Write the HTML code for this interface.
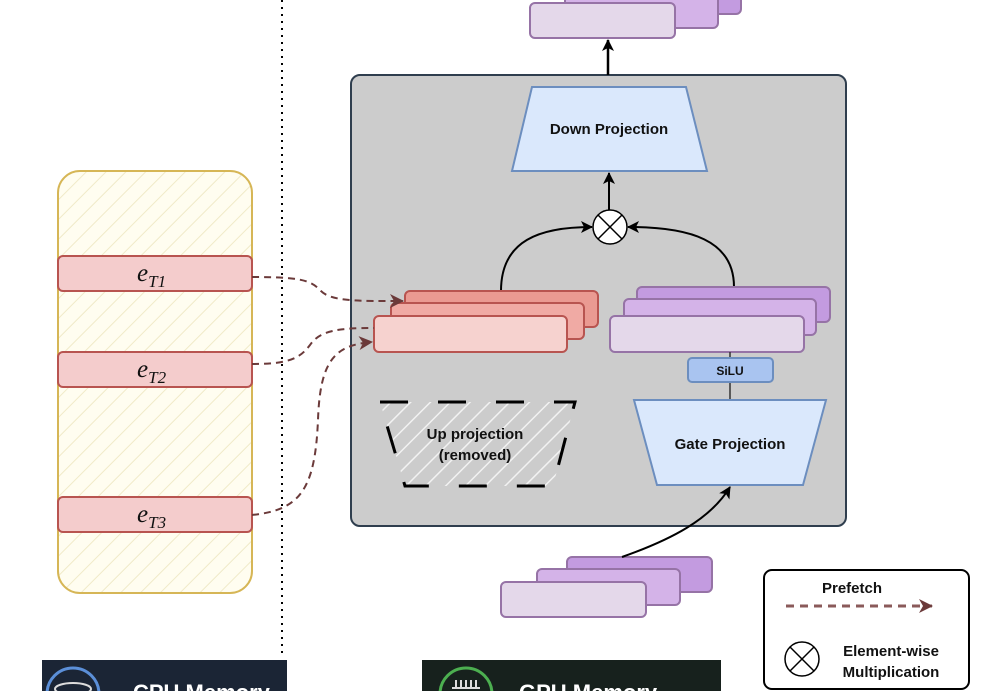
<!DOCTYPE html>
<html><head><meta charset="utf-8"><style>
html,body{margin:0;padding:0;background:#fff;width:1002px;height:691px;overflow:hidden}
svg{display:block}
text{font-family:"Liberation Sans",sans-serif}
</style></head><body>
<svg width="1002" height="691" viewBox="0 0 1002 691" xmlns="http://www.w3.org/2000/svg">
<defs>
<pattern id="hy" patternUnits="userSpaceOnUse" width="14" height="14" patternTransform="rotate(45)">
<rect width="14" height="14" fill="#fffdf0"/><line x1="0" y1="0" x2="0" y2="14" stroke="#f0eac8" stroke-width="2"/></pattern>
<pattern id="hg" patternUnits="userSpaceOnUse" width="14" height="14" patternTransform="rotate(45)">
<rect width="14" height="14" fill="#cccccc"/><line x1="0" y1="0" x2="0" y2="14" stroke="#f2f2f2" stroke-width="3"/></pattern>
<marker id="ab" markerWidth="12" markerHeight="12" refX="11" refY="6" orient="auto" markerUnits="userSpaceOnUse"><path d="M0,0 L12,6 L0,12 L3,6z" fill="#000"/></marker>
<marker id="ar" markerWidth="14" markerHeight="14" refX="13" refY="7" orient="auto" markerUnits="userSpaceOnUse"><path d="M0,0 L14,7 L0,14 L4,7z" fill="#6b3a3a"/></marker>
</defs>
<line x1="282" y1="0" x2="282" y2="655" stroke="#000" stroke-width="2" stroke-dasharray="2,5"/>
<rect x="58" y="171" width="194" height="422" rx="22" fill="url(#hy)" stroke="#d6b656" stroke-width="2"/>
<g fill="#f4cccc" stroke="#b85450" stroke-width="2">
<rect x="58" y="256" width="194" height="35" rx="5"/>
<rect x="58" y="352" width="194" height="35" rx="5"/>
<rect x="58" y="497" width="194" height="35" rx="5"/>
</g>
<g style="font-family:'Liberation Serif',serif;font-style:italic" fill="#111">
<text x="137" y="281" font-size="25" style="font-family:'Liberation Serif',serif">e<tspan font-size="17" dy="6">T1</tspan></text>
<text x="137" y="377" font-size="25" style="font-family:'Liberation Serif',serif">e<tspan font-size="17" dy="6">T2</tspan></text>
<text x="137" y="522" font-size="25" style="font-family:'Liberation Serif',serif">e<tspan font-size="17" dy="6">T3</tspan></text>
</g>
<rect x="351" y="75" width="495" height="451" rx="9" fill="#cccccc" stroke="#2f3e4e" stroke-width="2"/>
<g stroke="#9673a6" stroke-width="2">
<rect x="600" y="-12" width="141" height="26" rx="5" fill="#c39be0"/>
<rect x="565" y="-8" width="153" height="36" rx="5" fill="#d4b3e8"/>
<rect x="530" y="3" width="145" height="35" rx="5" fill="#e4d8ea"/>
</g>
<line x1="608" y1="75" x2="608" y2="40" stroke="#000" stroke-width="2.5" marker-end="url(#ab)"/>
<polygon points="532,87 686,87 707,171 512,171" fill="#dae8fc" stroke="#6c8ebf" stroke-width="2"/>
<text x="609" y="134" font-size="15" font-weight="bold" text-anchor="middle" fill="#111">Down Projection</text>
<line x1="609" y1="210" x2="609" y2="173" stroke="#000" stroke-width="2" marker-end="url(#ab)"/>
<circle cx="610" cy="227" r="17" fill="#fff" stroke="#000" stroke-width="1.5"/>
<path d="M598,215 L622,239 M622,215 L598,239" stroke="#000" stroke-width="1.5"/>
<path d="M501,291 C501,240 540,227 592,227" fill="none" stroke="#000" stroke-width="2" marker-end="url(#ab)"/>
<path d="M734,287 C734,240 690,227 628,227" fill="none" stroke="#000" stroke-width="2" marker-end="url(#ab)"/>
<g stroke="#b85450" stroke-width="2">
<rect x="405" y="291" width="193" height="36" rx="5" fill="#ea9a92"/>
<rect x="391" y="303" width="193" height="36" rx="5" fill="#f0aaa4"/>
<rect x="374" y="316" width="193" height="36" rx="5" fill="#f6d2cf"/>
</g>
<g stroke="#9673a6" stroke-width="2">
<rect x="637" y="287" width="193" height="35" rx="5" fill="#c39be0"/>
<rect x="624" y="299" width="192" height="36" rx="5" fill="#d4b3e8"/>
<rect x="610" y="316" width="194" height="36" rx="5" fill="#e4d8ea"/>
</g>
<line x1="730" y1="352" x2="730" y2="400" stroke="#333" stroke-width="1.5"/>
<rect x="688" y="358" width="85" height="24" rx="4" fill="#a9c4f0" stroke="#6c8ebf" stroke-width="2"/>
<text x="730" y="375" font-size="12" font-weight="bold" text-anchor="middle" fill="#111">SiLU</text>
<polygon points="634,400 826,400 803,485 657,485" fill="#dae8fc" stroke="#6c8ebf" stroke-width="2"/>
<text x="730" y="449" font-size="15" font-weight="bold" text-anchor="middle" fill="#111">Gate Projection</text>
<polygon points="380,402 575,402 553,486 405,486" fill="url(#hg)" stroke="#000" stroke-width="3" stroke-dasharray="28,30"/>
<text x="475" y="439" font-size="15" font-weight="bold" text-anchor="middle" fill="#111">Up projection</text>
<text x="475" y="460" font-size="15" font-weight="bold" text-anchor="middle" fill="#111">(removed)</text>
<g stroke="#9673a6" stroke-width="2">
<rect x="567" y="557" width="145" height="35" rx="5" fill="#c39be0"/>
<rect x="537" y="569" width="143" height="36" rx="5" fill="#d4b3e8"/>
<rect x="501" y="582" width="145" height="35" rx="5" fill="#e4d8ea"/>
</g>
<path d="M622,557 C670,540 710,520 730,487" fill="none" stroke="#000" stroke-width="2" marker-end="url(#ab)"/>
<g fill="none" stroke="#6b3a3a" stroke-width="2" stroke-dasharray="7,5">
<path d="M252,277 C300,277 310,280 320,290 C330,302 360,301 403,301" marker-end="url(#ar)"/>
<path d="M252,364 C290,364 300,358 310,345 C320,330 340,328 374,328"/>
<path d="M252,515 C300,510 315,490 318,420 C320,360 335,345 372,342" marker-end="url(#ar)"/>
</g>
<rect x="764" y="570" width="205" height="119" rx="8" fill="#fff" stroke="#000" stroke-width="2"/>
<text x="852" y="593" font-size="15" font-weight="bold" text-anchor="middle" fill="#111">Prefetch</text>
<line x1="786" y1="606" x2="932" y2="606" stroke="#8a5a5a" stroke-width="3" stroke-dasharray="8,6" marker-end="url(#ar)"/>
<circle cx="802" cy="659" r="17" fill="#fff" stroke="#000" stroke-width="1.5"/>
<path d="M790,647 L814,671 M814,647 L790,671" stroke="#000" stroke-width="1.5"/>
<text x="891" y="656" font-size="15" font-weight="bold" text-anchor="middle" fill="#111">Element-wise</text>
<text x="891" y="677" font-size="15" font-weight="bold" text-anchor="middle" fill="#111">Multiplication</text>
<rect x="42" y="660" width="245" height="31" fill="#1b2535"/>
<circle cx="73" cy="694" r="26" fill="none" stroke="#5b8fd8" stroke-width="3"/>
<ellipse cx="73" cy="689" rx="18" ry="6" fill="none" stroke="#ddd" stroke-width="2"/>
<text x="133" y="700" font-size="22" font-weight="bold" fill="#fff">CPU Memory</text>
<rect x="422" y="660" width="299" height="31" fill="#17211d"/>
<circle cx="466" cy="694" r="26" fill="none" stroke="#4caf50" stroke-width="3"/>
<path d="M456,680 v8 M461,680 v8 M466,680 v8 M471,680 v8 M476,680 v8 M452,688 h28" stroke="#ddd" stroke-width="2"/>
<text x="519" y="700" font-size="22" font-weight="bold" fill="#fff">GPU Memory</text>
</svg>
</body></html>
